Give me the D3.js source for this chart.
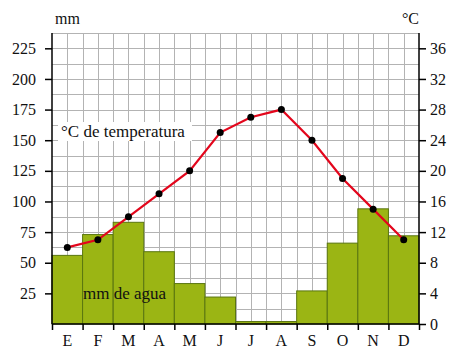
<!DOCTYPE html>
<html>
<head>
<meta charset="utf-8">
<script src="https://cdn.jsdelivr.net/npm/d3@7"></script>
<style>
  body { margin: 0; background: #fff; }
  text { font-family: "Liberation Serif", "DejaVu Serif", serif; fill: #111; }
</style>
</head>
<body>
<div class="chart"></div>
<script>
var months = ["E", "F", "M", "A", "M", "J", "J", "A", "S", "O", "N", "D"];
var rainfall = [56, 73, 83, 59, 33, 22, 2, 2, 27, 66, 94, 72];
var temperature = [10, 11, 14, 17, 20, 25, 27, 28, 24, 19, 15, 11];
var mmTicks = [25, 50, 75, 100, 125, 150, 175, 200, 225];
var tempTicks = [0, 4, 8, 12, 16, 20, 24, 28, 32, 36];

var svgWidth = 449;
var svgHeight = 349;
var margin = { top: 33, right: 30, bottom: 25, left: 52 };
var width = svgWidth - margin.left - margin.right;
var height = svgHeight - margin.top - margin.bottom;

var barColor = "#9bb514";
var barStroke = "#5a7610";
var lineColor = "#e3061c";
var gridColor = "#b3b3b3";

var $svg = d3.select(".chart").append("svg")
    .attr("width", svgWidth)
    .attr("height", svgHeight);

var $g = $svg.append("g")
    .attr("transform", `translate(${margin.left},${margin.top})`);

var xScale = d3.scaleBand().domain(d3.range(12)).range([0, width]).padding(0);
var yScale = d3.scaleLinear().domain([0, 237.5]).range([height, 0]);
var tScale = d3.scaleLinear().domain([0, 38]).range([height, 0]);

// grid
var bw = xScale.bandwidth();
$g.append("g").selectAll("line.h")
    .data(d3.range(12.5, 237.6, 12.5))
    .enter().append("line")
    .attr("x1", 0).attr("x2", width)
    .attr("y1", d => Math.round(yScale(d)) + 0.5)
    .attr("y2", d => Math.round(yScale(d)) + 0.5)
    .attr("stroke", gridColor).attr("stroke-width", 1);

$g.append("g").selectAll("line.v")
    .data(d3.range(1, 24))
    .enter().append("line")
    .attr("x1", d => Math.round(d * bw / 2) + 0.5)
    .attr("x2", d => Math.round(d * bw / 2) + 0.5)
    .attr("y1", 0).attr("y2", height)
    .attr("stroke", gridColor).attr("stroke-width", 1);

// label with white background
var tempLabel = $g.append("g");
tempLabel.append("rect")
    .attr("x", 6).attr("y", 89)
    .attr("width", 134).attr("height", 19)
    .attr("fill", "#fff");
tempLabel.append("text")
    .attr("x", 9).attr("y", 104)
    .style("font-size", "17px")
    .text("°C de temperatura");

// bars
$g.append("g").selectAll("rect")
    .data(rainfall)
    .enter().append("rect")
    .attr("x", (d, i) => xScale(i))
    .attr("y", d => yScale(d))
    .attr("width", bw)
    .attr("height", d => height - yScale(d))
    .attr("fill", barColor)
    .attr("stroke", barStroke)
    .attr("stroke-width", 1);

$g.append("text")
    .attr("x", 31).attr("y", 266)
    .style("font-size", "17px")
    .text("mm de agua");

// temperature line
var line = d3.line()
    .x((d, i) => xScale(i) + bw / 2)
    .y(d => tScale(d));

$g.append("path")
    .datum(temperature)
    .attr("d", line)
    .attr("fill", "none")
    .attr("stroke", lineColor)
    .attr("stroke-width", 2.2);

$g.append("g").selectAll("circle")
    .data(temperature)
    .enter().append("circle")
    .attr("cx", (d, i) => xScale(i) + bw / 2)
    .attr("cy", d => tScale(d))
    .attr("r", 3.5)
    .attr("fill", "#000");

// axes
var leftAxis = d3.axisLeft(yScale).tickValues(mmTicks).tickSize(7).tickPadding(9);
var rightAxis = d3.axisRight(tScale).tickValues(tempTicks).tickSize(7).tickPadding(4);
var bottomAxis = d3.axisBottom(d3.scaleLinear().domain([0, 12]).range([0, width]))
    .tickValues(d3.range(13)).tickSize(6).tickFormat("");

function styleAxis(sel) {
    sel.attr("font-family", null);
    sel.select(".domain").remove();
    sel.selectAll(".tick line").attr("stroke", "#000").attr("stroke-width", 1.5);
    sel.selectAll(".tick text")
        .style("font-family", "'Liberation Serif', serif")
        .style("font-size", "16px")
        .attr("fill", "#111");
}

$g.append("g").call(leftAxis).call(styleAxis);
$g.append("g").attr("transform", `translate(${width},0)`).call(rightAxis).call(styleAxis);
$g.append("g").attr("transform", `translate(0,${height})`).call(bottomAxis).call(styleAxis);

$g.append("line").attr("x1", 0).attr("x2", 0).attr("y1", 0).attr("y2", height)
    .attr("stroke", "#000").attr("stroke-width", 1.5);
$g.append("line").attr("x1", width).attr("x2", width).attr("y1", 0).attr("y2", height)
    .attr("stroke", "#000").attr("stroke-width", 1.5);
$g.append("line").attr("x1", 0).attr("x2", width).attr("y1", height).attr("y2", height)
    .attr("stroke", "#000").attr("stroke-width", 1.5);

// month labels
$g.append("g").selectAll("text")
    .data(months)
    .enter().append("text")
    .attr("x", (d, i) => xScale(i) + bw / 2)
    .attr("y", height + 22)
    .attr("text-anchor", "middle")
    .style("font-size", "16px")
    .text(d => d);

// unit labels
$svg.append("text").attr("x", 55).attr("y", 24)
    .style("font-size", "16px").text("mm");
$svg.append("text").attr("x", 419).attr("y", 24)
    .attr("text-anchor", "end")
    .style("font-size", "16px").text("°C");
</script>
</body>
</html>
